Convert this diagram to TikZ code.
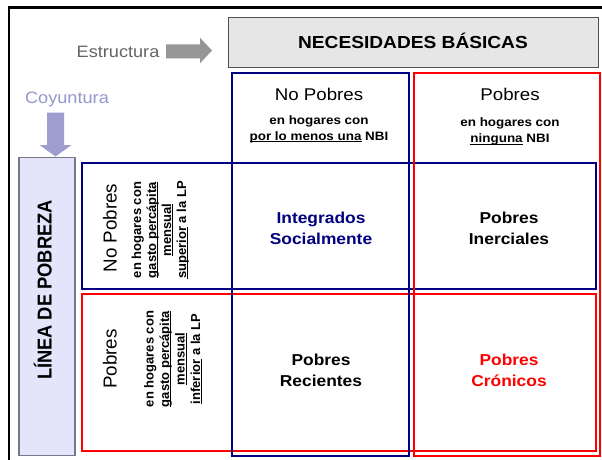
\documentclass[tikz,border=0pt]{standalone}
\usepackage{fontspec}
\newfontfamily\hf{Liberation Sans}[FakeStretch=1.1]
\newfontfamily\vf{Liberation Sans}
\definecolor{navyb}{RGB}{0,0,128}
\definecolor{redb}{RGB}{255,0,0}
\definecolor{grayfill}{RGB}{230,230,230}
\definecolor{grayline}{RGB}{80,80,80}
\definecolor{lavfill}{RGB}{228,228,250}
\definecolor{lavline}{RGB}{120,120,140}
\definecolor{lavarrow}{RGB}{158,158,206}
\definecolor{lavtext}{RGB}{150,150,205}
\definecolor{grayarrow}{RGB}{150,150,150}
\definecolor{graytext}{RGB}{100,100,100}
\newsavebox\ulbox
\newcommand{\ulx}[1]{\sbox\ulbox{#1}\rlap{\rule[-1.9pt]{\wd\ulbox}{0.8pt}}\usebox\ulbox}
\begin{document}
\begin{tikzpicture}[x=1pt,y=-1pt,
  navybox/.style={draw=navyb, line width=2pt},
  redbox/.style={draw=redb, line width=2pt},
  lbl/.style={inner sep=0pt, anchor=base},
  vlbl/.style={inner sep=0pt, anchor=base, rotate=90},
  hdr/.style={font=\hf\fontsize{17}{20}\selectfont},
  subt/.style={font=\hf\bfseries\fontsize{12.2}{15}\selectfont},
  midt/.style={font=\hf\bfseries\fontsize{15.8}{20}\selectfont},
  side/.style={font=\hf\fontsize{16.5}{20}\selectfont},
  vhdr/.style={font=\vf\fontsize{18.8}{20}\selectfont},
  vsub/.style={font=\vf\bfseries\fontsize{13}{15}\selectfont},
 ]
\useasboundingbox (0,0) rectangle (602,459);
\fill[white] (0,0) rectangle (602,459);
% outer frame
\draw[line width=2.3pt] (8.7,462) -- (8.7,7.5) -- (606,7.5);

% block arrows
\fill[grayarrow] (166,44.3) -- (200,44.3) -- (200,37.7) -- (212,50.5) -- (200,63.3) -- (200,58.3) -- (166,58.3) -- cycle;
\fill[lavarrow] (47,112.7) -- (64,112.7) -- (64,145) -- (71.5,145) -- (55.5,156.5) -- (39.5,145) -- (47,145) -- cycle;

% header box
\draw[fill=grayfill, draw=grayline, line width=1pt] (228,17) rectangle (598,67.5);
% side box
\draw[fill=lavfill, draw=lavline, line width=1.2pt] (19,157.5) rectangle (75,455.5);

% rows
\draw[navybox] (82,162.5) rectangle (595.5,289);
\draw[redbox] (82,294) rectangle (595.5,451);
% columns
\draw[navybox] (232,73) rectangle (409,455.5);
\draw[redbox] (414,73) rectangle (599.5,455.5);

% texts
\node[lbl, font=\hf\bfseries\fontsize{17.4}{20}\selectfont] (nb) at (413,48.5) {NECESIDADES BÁSICAS};
\node[lbl, side, text=graytext] (est) at (118,57) {Estructura};
\node[lbl, side, text=lavtext] (coy) at (67,103) {Coyuntura};

\node[lbl, hdr] (np) at (319,100.5) {No Pobres};
\node[lbl, subt] (np1) at (319,124) {en hogares con};
\node[lbl, subt] (np2) at (319,140) {\ulx{por lo menos una} NBI};
\node[lbl, hdr] (pp) at (510,100.5) {Pobres};
\node[lbl, subt] (pp1) at (510,126.5) {en hogares con};
\node[lbl, subt] (pp2) at (510,142.8) {\ulx{ninguna} NBI};

\node[lbl, midt, text=navyb] (is1) at (321,223.5) {Integrados};
\node[lbl, midt, text=navyb] (is2) at (321,244.5) {Socialmente};
\node[lbl, midt] (pi1) at (509,223.5) {Pobres};
\node[lbl, midt] (pi2) at (509,244.5) {Inerciales};
\node[lbl, midt] (pr1) at (321,365) {Pobres};
\node[lbl, midt] (pr2) at (321,386) {Recientes};
\node[lbl, midt, text=redb] (pc1) at (509,365) {Pobres};
\node[lbl, midt, text=redb] (pc2) at (509,386) {Crónicos};

% rotated texts
\node[vlbl, font=\vf\bfseries\fontsize{18.3}{20}\selectfont] (lp) at (51.7,290) {\scalebox{1}[1.1]{LÍNEA DE POBREZA}};

\node[vlbl, vhdr] (rnp) at (116.5,228) {No Pobres};
\node[vlbl, vsub] (rnp1) at (141,230) {en hogares con};
\node[vlbl, vsub] (rnp2) at (156,230) {\ulx{gasto percápita}};
\node[vlbl, vsub] (rnp3) at (171,230) {\ulx{mensual}};
\node[vlbl, vsub] (rnp4) at (186,230) {\ulx{superior} a la LP};

\node[vlbl, vhdr] (rp) at (116.5,359) {Pobres};
\node[vlbl, vsub] (rp1) at (153.5,359) {en hogares con};
\node[vlbl, vsub] (rp2) at (169,359) {\ulx{gasto percápita}};
\node[vlbl, vsub] (rp3) at (184.5,359) {\ulx{mensual}};
\node[vlbl, vsub] (rp4) at (200,359) {\ulx{inferior} a la LP};
\end{tikzpicture}
\end{document}
